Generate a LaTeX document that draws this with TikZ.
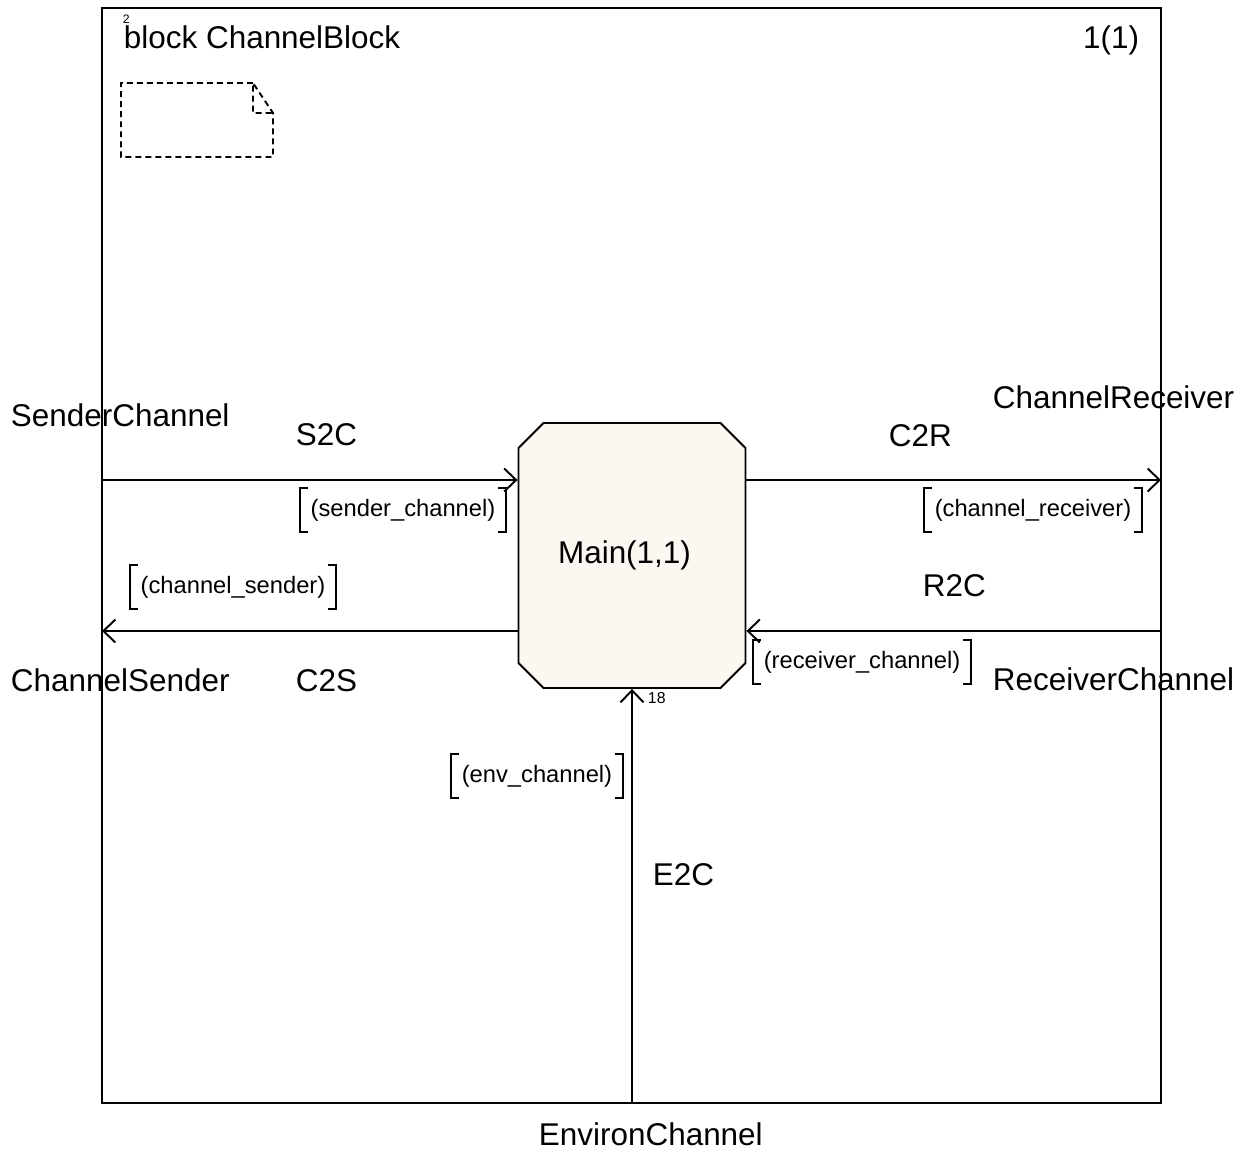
\documentclass[tikz,border=0pt]{standalone}
\usepackage{fontspec}
\setmainfont{Liberation Sans}
\usetikzlibrary{arrows.meta,shapes.misc}
\definecolor{procfill}{RGB}{253,247,241}
\tikzset{>/.tip={Straight Barb[length=0.24cm,width=0.46cm]}}
\tikzset{
  lbl/.style={font=\fontsize{17.9}{20}\selectfont, inner sep=0pt, anchor=base west},
  tiny/.style={font=\fontsize{9}{10}\selectfont, inner sep=0pt, anchor=base west},
  siglist/.style={font=\fontsize{13.5}{16}\selectfont, inner xsep=0.2cm, inner ysep=0pt, minimum height=0.84cm},
  process/.style={chamfered rectangle, chamfered rectangle xsep=0.25cm, chamfered rectangle ysep=0.25cm,
    draw, fill=procfill, minimum width=4.54cm, minimum height=5.3cm, font=\fontsize{17.9}{20}\selectfont},
  chan/.style={->, line width=1.1pt},
}

\begin{document}
\begin{tikzpicture}[x=0.02cm, y=-0.02cm, line width=1.1pt]
\useasboundingbox (0,0) rectangle (1244,1153);
% block frame
\draw (102,8) rectangle (1161,1103);
\node[lbl] (title) at (123,48) {block ChannelBlock};
\node[tiny, font=\fontsize{7}{8}\selectfont] (pageno) at (122,23) {2};
\node[lbl, anchor=base east] (page) at (1140,48) {1(1)};
% text symbol
\draw[dash pattern=on 3.4pt off 2.3pt, line width=1.1pt]
  (253,83) -- (121,83) -- (121,157) -- (273,157) -- (273,113) -- (253,83) -- (253,113) -- (273,113);

\node[process] (main) at (632,555.5) {Main(1,1)\hspace*{0.3cm}};

% gates on the frame
\coordinate (sc) at (102,480);
\coordinate (cr) at (1161,480);
\coordinate (cs) at (102,631);
\coordinate (rc) at (1161,631);
\coordinate (ec) at (632,1103);

\draw[chan] (sc) -- (sc -| main.west);
\draw[chan] (main.east |- cr) -- (cr);
\draw[chan] (main.west |- cs) -- (cs);
\draw[chan] (rc) -- (rc -| main.east);
\draw[chan] (ec) -- (main.south);

\node[lbl] (sc-name) at (10,426) {SenderChannel};
\node[lbl] (s2c) at (295,445) {S2C};
\node[lbl] (cr-name) at (992,408) {ChannelReceiver};
\node[lbl] (c2r) at (888,446) {C2R};
\node[lbl] (cs-name) at (10,691) {ChannelSender};
\node[lbl] (c2s) at (295,691) {C2S};
\node[lbl] (r2c) at (922,596) {R2C};
\node[lbl] (rc-name) at (992,690) {ReceiverChannel};
\node[lbl] (e2c) at (652,885) {E2C};
\node[lbl] (ec-name) at (538,1145) {EnvironChannel};
\node[tiny] (gate) at (647,703) {18};

\node[siglist] (sl-sc) at (403,510) {(sender\_channel)};
\node[siglist] (sl-cr) at (1033,510) {(channel\_receiver)};
\node[siglist] (sl-cs) at (233,587) {(channel\_sender)};
\node[siglist] (sl-rc) at (862,662) {(receiver\_channel)};
\node[siglist] (sl-ec) at (537,776) {(env\_channel)};
\foreach \n in {sl-sc,sl-cr,sl-cs,sl-rc,sl-ec} {
  \draw ([xshift=0.16cm]\n.north west) -- (\n.north west) -- (\n.south west) -- ([xshift=0.16cm]\n.south west);
  \draw ([xshift=-0.16cm]\n.north east) -- (\n.north east) -- (\n.south east) -- ([xshift=-0.16cm]\n.south east);
}
\end{tikzpicture}
\end{document}
